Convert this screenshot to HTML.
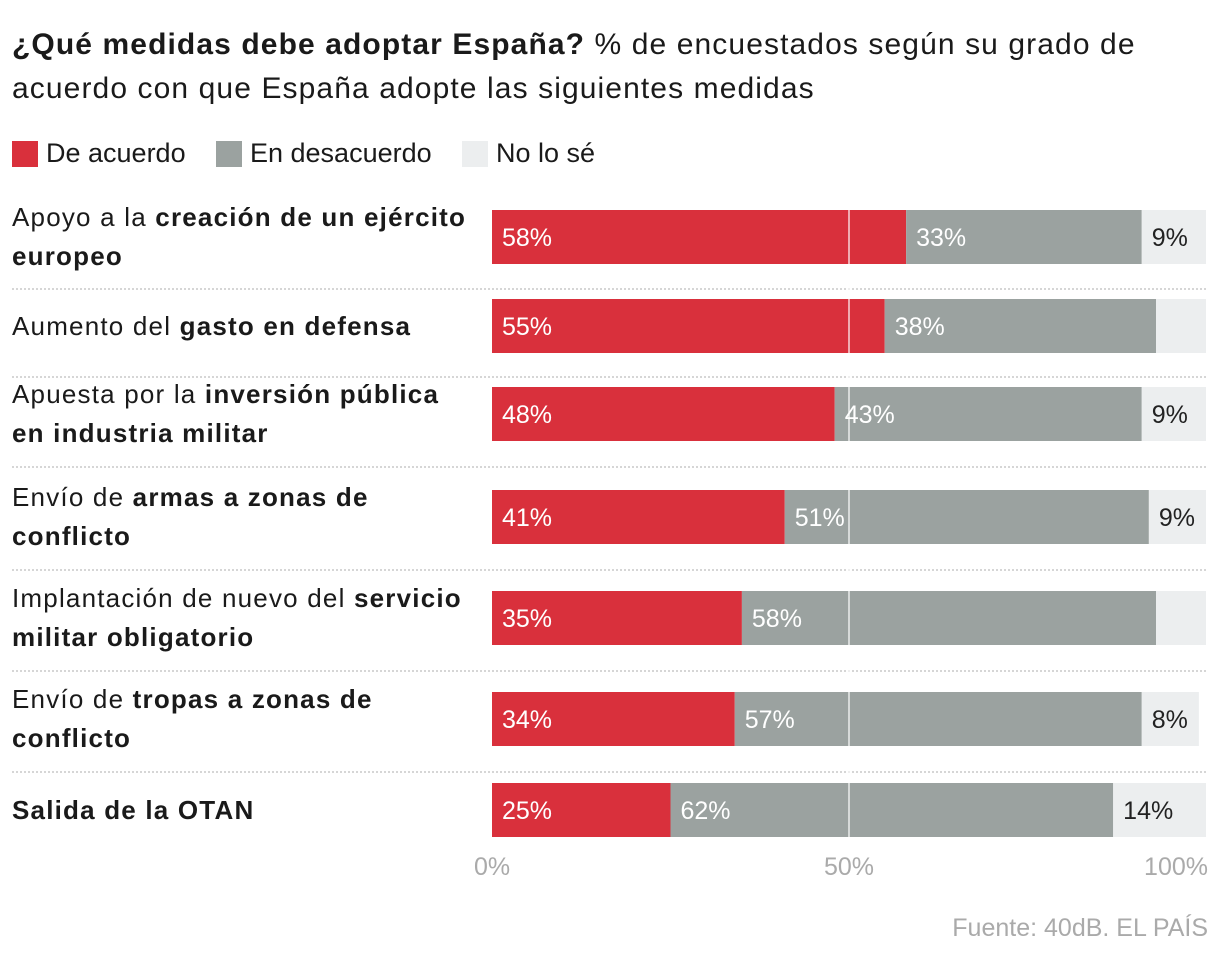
<!DOCTYPE html>
<html><head><meta charset="utf-8"><style>
body{margin:0;width:1220px;height:960px;background:#fff;font-family:"Liberation Sans",sans-serif;color:#1a1a1a;position:relative;overflow:hidden}
.t{position:absolute;left:12px;top:23px;font-size:30px;line-height:44px;width:1200px;white-space:nowrap;letter-spacing:1.1px}
.leg{position:absolute;top:138px;font-size:27px;display:flex;align-items:center}
.sw{width:26px;height:26px;margin-right:8px}
.lab{position:absolute;left:12px;font-size:26px;line-height:39px;width:480px;white-space:nowrap;letter-spacing:1.2px}
.src{position:absolute;right:12px;top:914px;font-size:25px;color:#aaa}
</style></head><body>
<div class="t"><b>¿Qué medidas debe adoptar España?</b> % de encuestados según su grado de<br>acuerdo con que España adopte las siguientes medidas</div>
<div class="leg" style="left:12px"><div class="sw" style="background:#d9303c"></div>De acuerdo</div>
<div class="leg" style="left:216px"><div class="sw" style="background:#9ba2a0"></div>En desacuerdo</div>
<div class="leg" style="left:462px"><div class="sw" style="background:#eceeef"></div>No lo sé</div>
<div id="labels"></div>
<svg id="chart" width="1220" height="960" style="position:absolute;left:0;top:0"></svg>
<div class="src">Fuente: 40dB. EL PAÍS</div>
<script>
const categories=["Apoyo a la <b>creación de un ejército<br>europeo</b>","Aumento del <b>gasto en defensa</b>","Apuesta por la <b>inversión pública<br>en industria militar</b>","Envío de <b>armas a zonas de<br>conflicto</b>","Implantación de nuevo del <b>servicio<br>militar obligatorio</b>","Envío de <b>tropas a zonas de<br>conflicto</b>","<b>Salida de la OTAN</b>"];
const agree=[58,55,48,41,35,34,25];
const disagree=[33,38,43,51,58,57,62];
const dontKnow=[9,7,9,9,7,8,14];
const showDK=[true,false,true,true,false,true,true];
const ticks=[0,50,100];
const rowTops=[210,299,387,490,591,692,783];
const seps=[289,377,467,570,671,772];
const X0=492,X1=1206,BH=54;
const x=v=>X0+(X1-X0)*Math.min(v,100)/100;
const svg=document.getElementById('chart');const NS="http://www.w3.org/2000/svg";
function mk(t,a){const e=document.createElementNS(NS,t);for(const k in a)e.setAttribute(k,a[k]);svg.appendChild(e);return e;}
seps.forEach(y=>{const l=mk('line',{x1:12,x2:1208,y1:y,y2:y,stroke:'#c8c8c8','stroke-dasharray':'2,2','stroke-width':1.5});

});
const labels=document.getElementById('labels');
categories.forEach((c,i)=>{
 const y=rowTops[i];
 const segs=[[0,agree[i],'#d9303c','#fff',true,'agree'],[agree[i],disagree[i],'#9ba2a0','#fff',true,'disagree'],[agree[i]+disagree[i],dontKnow[i],'#eceeef','#222',showDK[i],'dont-know']];
 segs.forEach(s=>{
  const w=Math.max(0,x(s[0]+s[1])-x(s[0]));
  const r=mk('rect',{x:x(s[0]),y:y,width:w,height:BH,fill:s[2]});
  
  
  if(s[4]){const t=mk('text',{x:x(s[0])+10,y:y+BH/2+9,fill:s[3],'font-size':25,'font-family':'Liberation Sans'});t.textContent=s[1]+'%';
  
  }
 });
 const d=document.createElement('div');d.className='lab';d.innerHTML=c;
 const twoLine=c.indexOf('<br>')>=0;
 d.style.top=(y+BH/2-(twoLine?39:19.5))+'px';
 
 
 labels.appendChild(d);
});
const g=mk('line',{x1:x(50),x2:x(50),y1:205,y2:842,stroke:'#fff','stroke-width':1.5,'stroke-opacity':0.8});


ticks.forEach((t,i)=>{const e=mk('text',{x:x(t),y:875,fill:'#aaa','font-size':25,'font-family':'Liberation Sans','text-anchor':i==0?'start':i==ticks.length-1?'end':'middle'});
 if(i==0)e.setAttribute('x',x(t)-18);
 if(i==ticks.length-1)e.setAttribute('x',x(t)+2);
 e.textContent=t+'%';
 
 });
</script>
</body></html>
